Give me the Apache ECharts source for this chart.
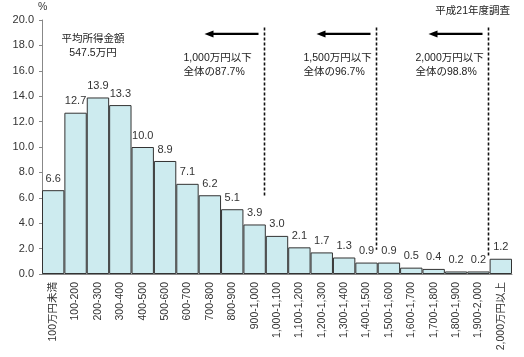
<!DOCTYPE html>
<html><head><meta charset="utf-8">
<script src="https://cdn.jsdelivr.net/npm/echarts@6/dist/echarts.min.js"></script>
<style>html,body{margin:0;padding:0;background:#fff}#c{width:524px;height:357px}</style>
</head><body><div id="c"></div>
<script>
const categories = ['100万円未満','100-200','200-300','300-400','400-500','500-600','600-700','700-800','800-900','900-1,000','1,000-1,100','1,100-1,200','1,200-1,300','1,300-1,400','1,400-1,500','1,500-1,600','1,600-1,700','1,700-1,800','1,800-1,900','1,900-2,000','2,000万円以上'];
const shares = [6.6,12.7,13.9,13.3,10.0,8.9,7.1,6.2,5.1,3.9,3.0,2.1,1.7,1.3,0.9,0.9,0.5,0.4,0.2,0.2,1.2];
const yTicks = [0,2,4,6,8,10,12,14,16,18,20];
const cutIndex = [10, 15, 20];
const cutText = [['1,000万円以下','全体の87.7%'],['1,500万円以下','全体の96.7%'],['2,000万円以下','全体の98.8%']];
const cutLineBottom = [6.1, 1.9, 1.35];

const FONT = '"Liberation Sans", Arial, "Noto Sans CJK JP", sans-serif';
const chart = echarts.init(document.getElementById('c'), null, {renderer:'canvas'});
chart.setOption({
  animation: false,
  textStyle: {fontFamily: FONT},
  grid: {left: 42, right: 12, top: 20, bottom: 83},
  xAxis: {
    type: 'category', data: categories,
    axisLine: {lineStyle: {color: '#888', width: 1}},
    axisTick: {show: false},
    axisLabel: {rotate: 90, interval: 0, fontSize: 10.5, color: '#333', margin: 8, fontFamily: FONT}
  },
  yAxis: {
    type: 'value', min: yTicks[0], max: yTicks[yTicks.length-1], interval: 2,
    axisLine: {show: true, lineStyle: {color: '#888'}},
    axisTick: {show: true, length: 3, lineStyle: {color: '#888'}},
    splitLine: {show: false},
    axisLabel: {formatter: v => v.toFixed(1), fontSize: 11, color: '#333', margin: 8, fontFamily: FONT}
  },
  series: [{
    type: 'bar', data: shares, barCategoryGap: 0,
    itemStyle: {color: '#CDEBEF', borderColor: '#333', borderWidth: 1},
    label: {show: true, position: 'top', distance: 6, formatter: p => p.value.toFixed(1), fontSize: 11, color: '#333', fontFamily: FONT}
  }]
});

function draw() {
  const band = chart.convertToPixel({xAxisIndex:0}, 1) - chart.convertToPixel({xAxisIndex:0}, 0);
  const els = [];
  const yTop = chart.convertToPixel({yAxisIndex:0}, 19.4);
  const yArrow = chart.convertToPixel({yAxisIndex:0}, 18.9);
  cutIndex.forEach((ci, k) => {
    const x = Math.round(chart.convertToPixel({xAxisIndex:0}, ci - 1) + band/2) - 1.5;
    const yb = chart.convertToPixel({yAxisIndex:0}, cutLineBottom[k]);
    els.push({type:'line', shape:{x1:x, y1:yTop, x2:x, y2:yb}, style:{stroke:'#111', lineWidth:1.6, lineDash:[3,2]}});
    const ax1 = x - 6, ax2 = x - 60;
    els.push({type:'line', shape:{x1:ax1, y1:yArrow, x2:ax2+6, y2:yArrow}, style:{stroke:'#000', lineWidth:2.2}});
    els.push({type:'polygon', shape:{points:[[ax2, yArrow],[ax2+9, yArrow-3.5],[ax2+9, yArrow+3.5]]}, style:{fill:'#000'}});
    const tx = k === 0 ? x - 81 : x - 73;
    els.push({type:'text', x: tx, y: 51, style:{text: cutText[k][0] + '\n' + cutText[k][1], font: '10.5px ' + FONT, fill:'#222', lineHeight: 14}});
  });
  els.push({type:'text', x: 93, y: 32, style:{text:'平均所得金額\n547.5万円', align:'center', font:'10.5px ' + FONT, fill:'#222', lineHeight: 14}});
  els.push({type:'text', x: 510, y: 6, style:{text:'平成21年度調査', align:'right', font:'10.5px ' + FONT, fill:'#222'}});
  els.push({type:'text', x: 38, y: 2, style:{text:'%', font:'10.5px ' + FONT, fill:'#333'}});
  chart.setOption({graphic: els});
}
draw();
</script></body></html>
